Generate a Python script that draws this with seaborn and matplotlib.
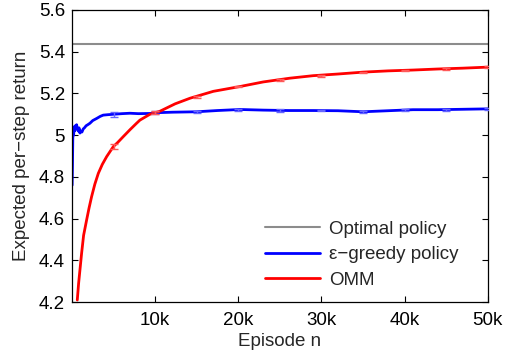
import numpy as np
import pandas as pd
import matplotlib
matplotlib.use("Agg")
import matplotlib.pyplot as plt
import seaborn as sns
from matplotlib.ticker import FixedLocator, FuncFormatter

# ---- data (episodes in thousands) ----
optimal_x = [0, 50]
optimal_y = [5.436, 5.436]

greedy_x = [0.02, 0.06, 0.1, 0.14, 0.2, 0.26, 0.32, 0.4, 0.5, 0.56, 0.65, 0.75, 0.85,
            0.96, 1.05, 1.2, 1.36, 1.5, 1.7, 1.9, 2.16, 2.5, 2.97, 3.4, 3.76, 4.3,
            4.97, 6, 6.97, 8, 9.37, 10.5, 12.1, 15, 17.5, 20.2, 23, 26, 29, 32, 35,
            38, 41, 44, 47, 50]
greedy_y = [4.76, 4.85, 4.98, 5.03, 5.0, 5.04, 5.02, 5.045, 5.03, 5.05, 5.03, 5.02, 5.035,
            5.01, 5.02, 5.015, 5.03, 5.035, 5.045, 5.05, 5.057, 5.07, 5.08, 5.09, 5.096, 5.098,
            5.10, 5.103, 5.105, 5.103, 5.104, 5.108, 5.11, 5.112, 5.118, 5.123, 5.12, 5.118,
            5.118, 5.117, 5.112, 5.117, 5.122, 5.122, 5.124, 5.126]

omm_x = [0.64, 0.8, 1.0, 1.16, 1.4, 1.76, 2.05, 2.36, 2.75, 3.17, 3.65, 4.17, 4.97, 5.5,
         6.17, 7, 7.77, 8.17, 9.37, 10.6, 12.4, 14.2, 17, 20.2, 23, 26.2, 29, 32, 35, 38,
         41, 44, 47, 50]
omm_y = [4.21, 4.29, 4.37, 4.434, 4.52, 4.593, 4.65, 4.705, 4.765, 4.817, 4.86, 4.897,
         4.945, 4.965, 4.993, 5.027, 5.057, 5.072, 5.10, 5.115, 5.15, 5.177, 5.21, 5.233,
         5.255, 5.273, 5.285, 5.293, 5.302, 5.308, 5.312, 5.317, 5.321, 5.326]

err_x = [5, 10, 15, 20, 25, 30, 35, 40, 45, 50]
greedy_err_y = [5.10, 5.108, 5.11, 5.12, 5.118, 5.118, 5.112, 5.12, 5.122, 5.126]
greedy_err = [0.012, 0.008, 0.005, 0.005, 0.005, 0.004, 0.004, 0.004, 0.004, 0.004]
omm_err_y = [4.945, 5.11, 5.185, 5.233, 5.265, 5.285, 5.30, 5.31, 5.318, 5.325]
omm_err = [0.012, 0.008, 0.005, 0.004, 0.004, 0.004, 0.004, 0.004, 0.004, 0.004]

labels = ["Optimal policy", "\u03b5\u2212greedy policy", "OMM"]
colors = ["#8c8c8c", "#0000ff", "#ff0000"]

x_ticks = [10, 20, 30, 40, 50]
y_ticks = [4.2, 4.4, 4.6, 4.8, 5.0, 5.2, 5.4, 5.6]

df = pd.concat([
    pd.DataFrame({"x": optimal_x, "y": optimal_y, "series": labels[0]}),
    pd.DataFrame({"x": greedy_x, "y": greedy_y, "series": labels[1]}),
    pd.DataFrame({"x": omm_x, "y": omm_y, "series": labels[2]}),
])

sns.set_style("ticks")
plt.rcParams['font.family'] = ['Liberation Sans', 'DejaVu Sans']
plt.rcParams['axes.unicode_minus'] = True

FS = 13.5
fig = plt.figure(figsize=(5.14, 3.55), dpi=100)
ax = fig.add_axes([0.140, 0.149, 0.809, 0.823])

widths = {labels[0]: 1.5, labels[1]: 2.0, labels[2]: 2.0}
for lab, col in zip(labels, colors):
    sub = df[df["series"] == lab]
    sns.lineplot(data=sub, x="x", y="y", color=col, lw=widths[lab], ax=ax,
                 estimator=None, sort=False, label=lab)

ax.errorbar(err_x, greedy_err_y, yerr=greedy_err, fmt='none', ecolor=(0.4, 0.4, 1.0),
            elinewidth=1.0, capsize=3, capthick=1.0, zorder=3)
ax.errorbar(err_x, omm_err_y, yerr=omm_err, fmt='none', ecolor=(1.0, 0.35, 0.35),
            elinewidth=1.0, capsize=3, capthick=1.0, zorder=3)

ax.set_xlim(0, 50)
ax.set_ylim(4.2, 5.6)
ax.xaxis.set_major_locator(FixedLocator(x_ticks))
ax.xaxis.set_major_formatter(FuncFormatter(lambda v, p: f"{int(v)}k"))
ax.yaxis.set_major_locator(FixedLocator(y_ticks))
ax.yaxis.set_major_formatter(FuncFormatter(lambda v, p: f"{v:g}"))
ax.tick_params(direction='in', length=4, width=0.8, top=True, right=True,
               labelsize=FS, colors='black')
ax.tick_params(axis='x', pad=7)
ax.tick_params(axis='y', pad=5)
for s in ax.spines.values():
    s.set_visible(True)
    s.set_linewidth(0.9)
    s.set_color('black')

ax.set_xlabel("Episode n", fontsize=FS, labelpad=3)
ax.set_ylabel("Expected per\u2212step return", fontsize=FS, labelpad=6)

ax.legend(loc='upper left', bbox_to_anchor=(0.465, 0.279), frameon=False,
          fontsize=FS, handlelength=2.9, handletextpad=0.5, labelspacing=0.45,
          borderpad=0, borderaxespad=0)

fig.savefig("out.png", dpi=100)
